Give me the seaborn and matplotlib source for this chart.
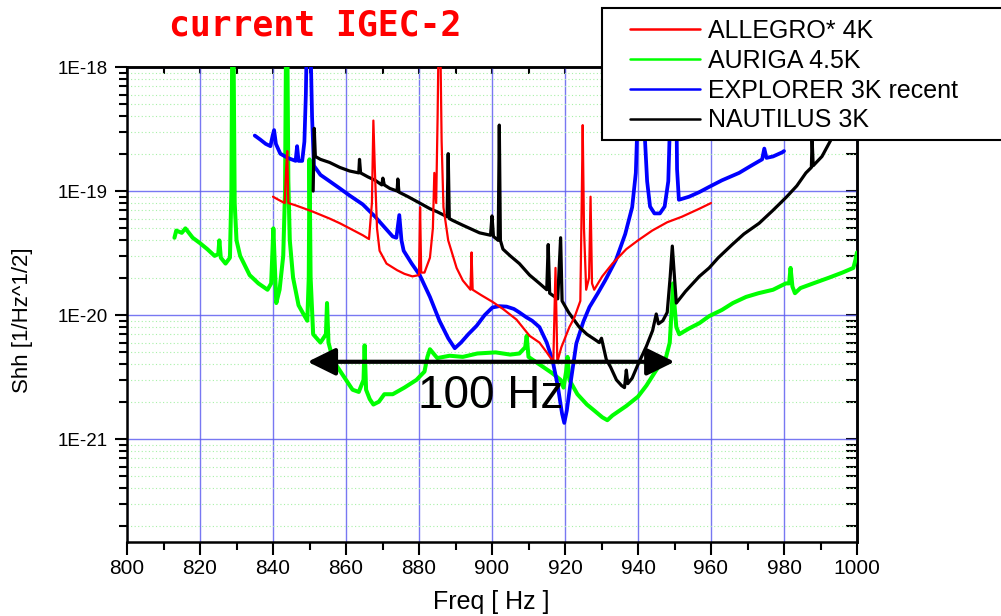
import numpy as np
import pandas as pd
import matplotlib
matplotlib.use("Agg")
import matplotlib.pyplot as plt
import matplotlib.ticker as mticker
from matplotlib.patches import Rectangle
import seaborn as sns

# ---------------- data ----------------
auriga_f = [813.0, 813.5, 815, 816, 818, 820, 822, 824, 825, 825.3, 825.7, 827, 828.2, 828.6, 828.85, 829.15,
            829.5, 830, 831, 833.6, 836, 838.5, 839.5, 839.8, 840.1, 840.5, 840.9, 841.8, 842.8, 843.3, 843.6,
            843.9, 844.2, 844.6, 845.5, 847, 848.5, 849.4, 849.8, 850.0, 850.3, 851, 853, 854.5, 854.8, 855.2,
            856.5, 858.5, 860, 861.8, 863.5, 864.8, 865.1, 865.5, 866.5, 867.5, 869, 870.5, 872.8, 876, 879.3,
            881.5, 882.3, 883, 885, 888.4, 892, 896, 901, 905, 907.5, 909.1, 909.5, 910.0, 913, 916.5, 918.8,
            919.6, 920.3, 920.7, 921.2, 923.4, 926, 928, 930.2, 931.6, 933, 936.8, 940, 942.3, 945, 947.7,
            948.7, 949.3, 949.6, 950.0, 950.5, 951.3, 954, 956.8, 959.5, 963, 966, 969.6, 973, 977, 980.5,
            981.4, 981.8, 982.3, 983, 984.5, 988, 992.3, 996, 999, 999.6, 1000]
auriga_v = [4.2e-20, 4.8e-20, 4.6e-20, 5.0e-20, 4.2e-20, 3.8e-20, 3.4e-20, 3.0e-20, 3.1e-20, 4.0e-20, 2.9e-20,
            2.6e-20, 2.9e-20, 1.0e-19, 2e-18, 2e-18, 8e-20, 4.0e-20, 3.0e-20, 2.1e-20, 1.8e-20, 1.6e-20,
            1.8e-20, 3e-20, 5.0e-20, 2.5e-20, 1.25e-20, 1.6e-20, 3e-20, 1e-19, 2e-18, 2e-18, 1.2e-19, 4e-20,
            2.0e-20, 1.2e-20, 1.0e-20, 9e-21, 2e-20, 1.8e-19, 2e-20, 7e-21, 6e-21, 7e-21, 1.25e-20, 6e-21,
            4.3e-21, 3.5e-21, 3.0e-21, 2.5e-21, 2.4e-21, 3.0e-21, 5.7e-21, 2.5e-21, 2.1e-21, 1.9e-21, 2.0e-21,
            2.3e-21, 2.3e-21, 2.6e-21, 3.0e-21, 3.5e-21, 4.6e-21, 5.3e-21, 4.5e-21, 4.7e-21, 4.6e-21, 4.9e-21,
            5.0e-21, 4.8e-21, 4.9e-21, 5.5e-21, 6.8e-21, 4.6e-21, 4.0e-21, 3.4e-21, 3.0e-21, 2.6e-21, 3.5e-21,
            4.6e-21, 3.0e-21, 2.3e-21, 1.9e-21, 1.7e-21, 1.5e-21, 1.42e-21, 1.55e-21, 1.85e-21, 2.2e-21,
            2.7e-21, 3.6e-21, 4.6e-21, 6e-21, 1.2e-20, 1.8e-20, 1.2e-20, 8e-21, 7.0e-21, 7.8e-21, 8.6e-21,
            9.8e-21, 1.1e-20, 1.25e-20, 1.4e-20, 1.5e-20, 1.6e-20, 1.8e-20, 1.8e-20, 2.4e-20, 1.7e-20, 1.5e-20,
            1.65e-20, 1.8e-20, 2.0e-20, 2.2e-20, 2.4e-20, 2.8e-20, 3.2e-20]

explorer_f = [835.0, 836.5, 838, 839.3, 839.9, 840.3, 840.8, 842, 844, 846.2, 846.6, 847, 848, 848.6, 849.0,
              849.3, 850.2, 850.7, 851.2, 853, 855.5, 858.3, 861, 864.6, 868, 872.8, 873.8, 874.6, 875.2,
              875.8, 878, 880.2, 883, 885.6, 888, 889.8, 891.5, 893.5, 895.8, 898, 900.1, 902, 904, 906,
              907.5, 909.4, 911, 913, 915, 916.6, 918, 919.2, 919.8, 920.5, 921.5, 923.1, 925, 926.7, 929,
              931, 934, 936.5, 938.4, 939.4, 939.9, 940.3, 941.3, 941.8, 942.5, 943.3, 944.5, 946, 947.3,
              948.3, 948.9, 949.2, 950.3, 950.7, 951.2, 954, 956.8, 959.5, 963, 967.7, 971, 974.0, 974.6,
              975.2, 977, 979.5, 980]
explorer_v = [2.8e-19, 2.6e-19, 2.4e-19, 2.3e-19, 2.8e-19, 3.1e-19, 2.4e-19, 2.0e-19, 1.85e-19, 1.75e-19,
              2.3e-19, 1.75e-19, 1.75e-19, 2.5e-19, 6e-19, 2e-18, 2e-18, 4e-19, 1.6e-19, 1.35e-19, 1.2e-19,
              1.05e-19, 9.2e-20, 7.8e-20, 6.2e-20, 4.3e-20, 4.2e-20, 6.4e-20, 4.0e-20, 3.3e-20, 2.6e-20,
              2.1e-20, 1.4e-20, 9e-21, 6.5e-21, 5.4e-21, 6.0e-21, 7.0e-21, 8.2e-21, 1.0e-20, 1.15e-20,
              1.18e-20, 1.17e-20, 1.12e-20, 1.05e-20, 9.6e-21, 9e-21, 8e-21, 6e-21, 4.3e-21, 2.7e-21, 1.6e-21,
              1.35e-21, 1.7e-21, 2.8e-21, 5.9e-21, 8.8e-21, 1.16e-20, 1.5e-20, 1.9e-20, 2.8e-20, 4.5e-20,
              7.4e-20, 1.4e-19, 4e-19, 2e-18, 2e-18, 3e-19, 1.2e-19, 7.5e-20, 6.6e-20, 6.6e-20, 7.5e-20,
              1.2e-19, 5e-19, 2e-18, 2e-18, 1.5e-19, 8.5e-20, 9.0e-20, 9.8e-20, 1.08e-19, 1.22e-19, 1.4e-19,
              1.6e-19, 1.8e-19, 2.2e-19, 1.85e-19, 1.9e-19, 2.05e-19, 2.1e-19]

allegro_f = [840.0, 841.5, 843.2, 843.6, 843.9, 844.2, 846, 848.2, 851, 855.5, 858.3, 861, 864.6, 866.3,
             867.1, 867.5, 867.9, 868.5, 869.2, 871.1, 874, 876, 878.2, 880.0, 880.3, 880.6, 881.5, 883,
             883.8, 884.2, 884.7, 885.1, 885.4, 885.8, 886.2, 886.7, 888, 890.3, 892, 894.1, 894.4, 894.7,
             897, 900.1, 903, 906.7, 910.3, 913, 915, 916.8, 917.4, 917.9, 919, 921.2, 922.6, 924.2, 924.6,
             924.85, 925.2, 925.8, 926.6, 927.0, 927.4, 928, 930.2, 933, 936.8, 940, 943.9, 948, 952, 956.8,
             960]
allegro_v = [9.0e-20, 8.5e-20, 8.0e-20, 1.5e-19, 2.1e-19, 8.0e-20, 7.7e-20, 7.3e-20, 6.8e-20, 6.0e-20,
             5.5e-20, 5.0e-20, 4.4e-20, 4.1e-20, 8e-20, 3.7e-19, 1.5e-19, 5e-20, 3.3e-20, 2.6e-20, 2.3e-20,
             2.15e-20, 2.05e-20, 2.1e-20, 7.4e-20, 2.2e-20, 2.2e-20, 2.9e-20, 5e-20, 1.4e-19, 8e-20, 4e-19,
             2e-18, 2e-18, 2.5e-19, 7.4e-20, 4e-20, 2.4e-20, 1.9e-20, 1.6e-20, 3.2e-20, 1.6e-20, 1.45e-20,
             1.28e-20, 1.12e-20, 9.2e-21, 6.8e-21, 6.0e-21, 5.0e-21, 4.2e-21, 2.4e-20, 4.2e-21, 5.5e-21,
             8e-21, 9.6e-21, 1.3e-20, 9e-20, 3.4e-19, 5e-20, 1.6e-20, 2e-20, 9e-20, 1.8e-20, 1.6e-20,
             2.05e-20, 2.6e-20, 3.4e-20, 4.0e-20, 4.8e-20, 5.6e-20, 6.2e-20, 7.2e-20, 8.0e-20]

nautilus_f = [851.0, 851.3, 851.6, 853, 855.5, 858.3, 861, 863.5, 863.7, 864, 866, 868, 869.8, 870.1, 870.5,
              872, 874, 874.2, 874.5, 877, 880.2, 883, 885, 887.7, 888.0, 888.3, 889.2, 892, 896.6, 899.6,
              900.0, 900.4, 901.7, 902.0, 902.3, 903, 905, 907.5, 910.3, 913, 915.0, 915.4, 915.8, 918,
              918.8, 919.2, 921, 923.9, 926, 928, 929.4, 930, 931.3, 932.5, 934.1, 935.5, 936.3, 936.8,
              937.2, 938.4, 940, 942.3, 944, 945, 945.6, 946.8, 948, 948.8, 949.4, 950.0, 950.5, 953, 956.8,
              959.5, 962, 965.8, 969, 973.2, 977, 980.6, 983.5, 986, 987.5, 987.7, 988.0, 990.4, 993.2,
              995.5, 997.5, 999, 1000]
nautilus_v = [1.0e-19, 3.2e-19, 1.9e-19, 1.8e-19, 1.7e-19, 1.55e-19, 1.45e-19, 1.4e-19, 1.8e-19, 1.4e-19,
              1.3e-19, 1.22e-19, 1.12e-19, 1.27e-19, 1.12e-19, 1.05e-19, 1.0e-19, 1.25e-19, 9.8e-20, 9e-20,
              8e-20, 7.2e-20, 6.8e-20, 6.2e-20, 2.0e-19, 6.0e-20, 5.8e-20, 5.3e-20, 4.6e-20, 4.4e-20, 6.3e-20,
              4.3e-20, 4.0e-20, 3.4e-19, 4.0e-20, 3.4e-20, 3.0e-20, 2.6e-20, 2.1e-20, 1.8e-20, 1.6e-20,
              3.7e-20, 1.5e-20, 1.35e-20, 4.2e-20, 1.3e-20, 1.05e-20, 8e-21, 7e-21, 6.4e-21, 6e-21, 6.5e-21,
              4.4e-21, 3.8e-21, 3.0e-21, 2.7e-21, 2.6e-21, 3.6e-21, 2.8e-21, 3.1e-21, 4.0e-21, 5.6e-21,
              7.5e-21, 1.02e-20, 8.5e-21, 9e-21, 1.05e-20, 2e-20, 3.6e-20, 2e-20, 1.25e-20, 1.55e-20, 2.05e-20,
              2.4e-20, 2.9e-20, 3.7e-20, 4.5e-20, 5.5e-20, 7e-20, 8.9e-20, 1.1e-19, 1.4e-19, 1.55e-19, 2.6e-19,
              1.6e-19, 1.9e-19, 2.7e-19, 3.8e-19, 6e-19, 9e-19, 1.2e-18]

series_names = ["ALLEGRO* 4K", "AURIGA 4.5K", "EXPLORER 3K recent", "NAUTILUS 3K"]
x_ticks = [800, 820, 840, 860, 880, 900, 920, 940, 960, 980, 1000]
y_ticks = [1e-21, 1e-20, 1e-19, 1e-18]
title_text = "current IGEC-2"
arrow_from, arrow_to, arrow_level = 849.5, 950.0, 4.2e-21
arrow_label = "100 Hz"

# ---------------- styling ----------------
sns.set_style("white")
plt.rcParams["font.family"] = ["Liberation Sans", "DejaVu Sans"]
for key in ["text.color", "axes.labelcolor", "xtick.color", "ytick.color", "axes.edgecolor"]:
    plt.rcParams[key] = "black"

W, H = 1001, 616
fig = plt.figure(figsize=(W / 100, H / 100), dpi=100)
L, R, T, B = 127, 857, 67, 542
ax = fig.add_axes([L / W, 1 - B / H, (R - L) / W, (B - T) / H])

colors = {"ALLEGRO* 4K": "#FF0000", "AURIGA 4.5K": "#00FF00",
          "EXPLORER 3K recent": "#0000FF", "NAUTILUS 3K": "#000000"}
widths = {"ALLEGRO* 4K": 1.6, "AURIGA 4.5K": 2.9, "EXPLORER 3K recent": 2.7, "NAUTILUS 3K": 2.3}
zorders = {"ALLEGRO* 4K": 3.6, "AURIGA 4.5K": 3.0, "EXPLORER 3K recent": 3.4, "NAUTILUS 3K": 3.5}
data = {"ALLEGRO* 4K": (allegro_f, allegro_v), "AURIGA 4.5K": (auriga_f, auriga_v),
        "EXPLORER 3K recent": (explorer_f, explorer_v), "NAUTILUS 3K": (nautilus_f, nautilus_v)}

handles = []
for name in series_names:
    f, v = data[name]
    df = pd.DataFrame({"freq": f, "shh": v})
    sns.lineplot(data=df, x="freq", y="shh", color=colors[name], lw=widths[name],
                 estimator=None, sort=False, ax=ax, zorder=zorders[name])
    handles.append(ax.get_lines()[-1])

ax.set_yscale("log")
ax.set_xlim(800, 1000)
ax.set_ylim(1.48e-22, 1e-18)

# ticks
ax.xaxis.set_major_locator(mticker.FixedLocator(x_ticks))
ax.xaxis.set_minor_locator(mticker.MultipleLocator(10))
ax.yaxis.set_major_locator(mticker.FixedLocator(y_ticks))
ax.yaxis.set_minor_locator(mticker.LogLocator(base=10, subs=np.arange(2, 10)))
ax.yaxis.set_minor_formatter(mticker.NullFormatter())
ax.yaxis.set_major_formatter(mticker.FuncFormatter(lambda v, p: "1E%d" % int(round(np.log10(v)))))
ax.tick_params(axis="x", which="major", direction="out", length=9, width=1.5, labelsize=15, pad=3,
               bottom=True, top=False, colors="black")
ax.tick_params(axis="x", which="minor", direction="out", length=5.5, width=1.5, bottom=True, top=False)
ax.tick_params(axis="y", which="major", direction="out", length=9, width=1.5, labelsize=13.5, pad=5,
               left=True, right=False, colors="black")
ax.tick_params(axis="y", which="minor", direction="out", length=5.5, width=1.5, left=True, right=False)

# inward ticks on top and right
sec_top = ax.secondary_xaxis("top")
sec_top.xaxis.set_major_locator(mticker.FixedLocator(x_ticks))
sec_top.xaxis.set_minor_locator(mticker.MultipleLocator(10))
sec_top.tick_params(which="both", direction="in", length=5, width=1.5, labeltop=False)
sec_top.spines["top"].set_linewidth(1.8)
sec_right = ax.secondary_yaxis("right")
sec_right.yaxis.set_major_locator(mticker.FixedLocator(y_ticks))
sec_right.yaxis.set_minor_locator(mticker.LogLocator(base=10, subs=np.arange(2, 10)))
sec_right.tick_params(which="both", direction="in", length=8, width=1.5, labelright=False)
sec_right.yaxis.set_major_formatter(mticker.NullFormatter())
sec_right.yaxis.set_minor_formatter(mticker.NullFormatter())
sec_right.spines["right"].set_linewidth(1.8)

for s in ax.spines.values():
    s.set_linewidth(1.8)
    s.set_color("black")

# grids
ax.grid(which="major", axis="both", color="#6060F0", lw=1.0, alpha=0.85, zorder=1)
ax.grid(which="minor", axis="y", color="#A8F0A8", lw=0.8, linestyle=(0, (1, 2.2)), zorder=1)
ax.set_axisbelow(True)

ax.set_xlabel("Freq [ Hz ]", fontsize=18)
ax.xaxis.set_label_coords((491 - L) / (R - L), -(590 - B) / (B - T))
ax.set_ylabel("Shh [1/Hz^1/2]", fontsize=16)
ax.yaxis.set_label_coords((23 - L) / (R - L), (B - 320) / (B - T))
ax.yaxis.label.set_va("center")

# arrow annotation
ax.annotate("", xy=(arrow_to, arrow_level), xytext=(arrow_from, arrow_level),
            arrowprops=dict(arrowstyle="<|-|>,head_length=0.85,head_width=0.42", mutation_scale=20,
                            lw=3, color="black", shrinkA=0, shrinkB=0), zorder=6)
ax.text((arrow_from + arrow_to) / 2, 1.78e-21, arrow_label, fontsize=33, ha="center", va="baseline",
        color="black", zorder=6)

# title
fig.text(315 / W, 1 - 36 / H, title_text, color="red", fontsize=25, fontweight="bold",
         family="DejaVu Sans Mono", ha="center", va="baseline")

# legend box and entries
frame = Rectangle((602 / W, 1 - 140 / H), 420 / W, 132 / H, transform=fig.transFigure,
                  facecolor="white", edgecolor="black", lw=1.5, zorder=10)
fig.add_artist(frame)
leg = fig.legend(handles, series_names, loc="upper left", bbox_to_anchor=(630 / W, 1 - 19 / H),
                 bbox_transform=fig.transFigure, frameon=False, fontsize=18, handlelength=2.8,
                 handletextpad=0.32, labelspacing=0.23, borderpad=0, borderaxespad=0)
leg.set_zorder(11)
for lh in leg.get_lines():
    lh.set_linewidth(1.8)

fig.savefig("out.png", dpi=100)
